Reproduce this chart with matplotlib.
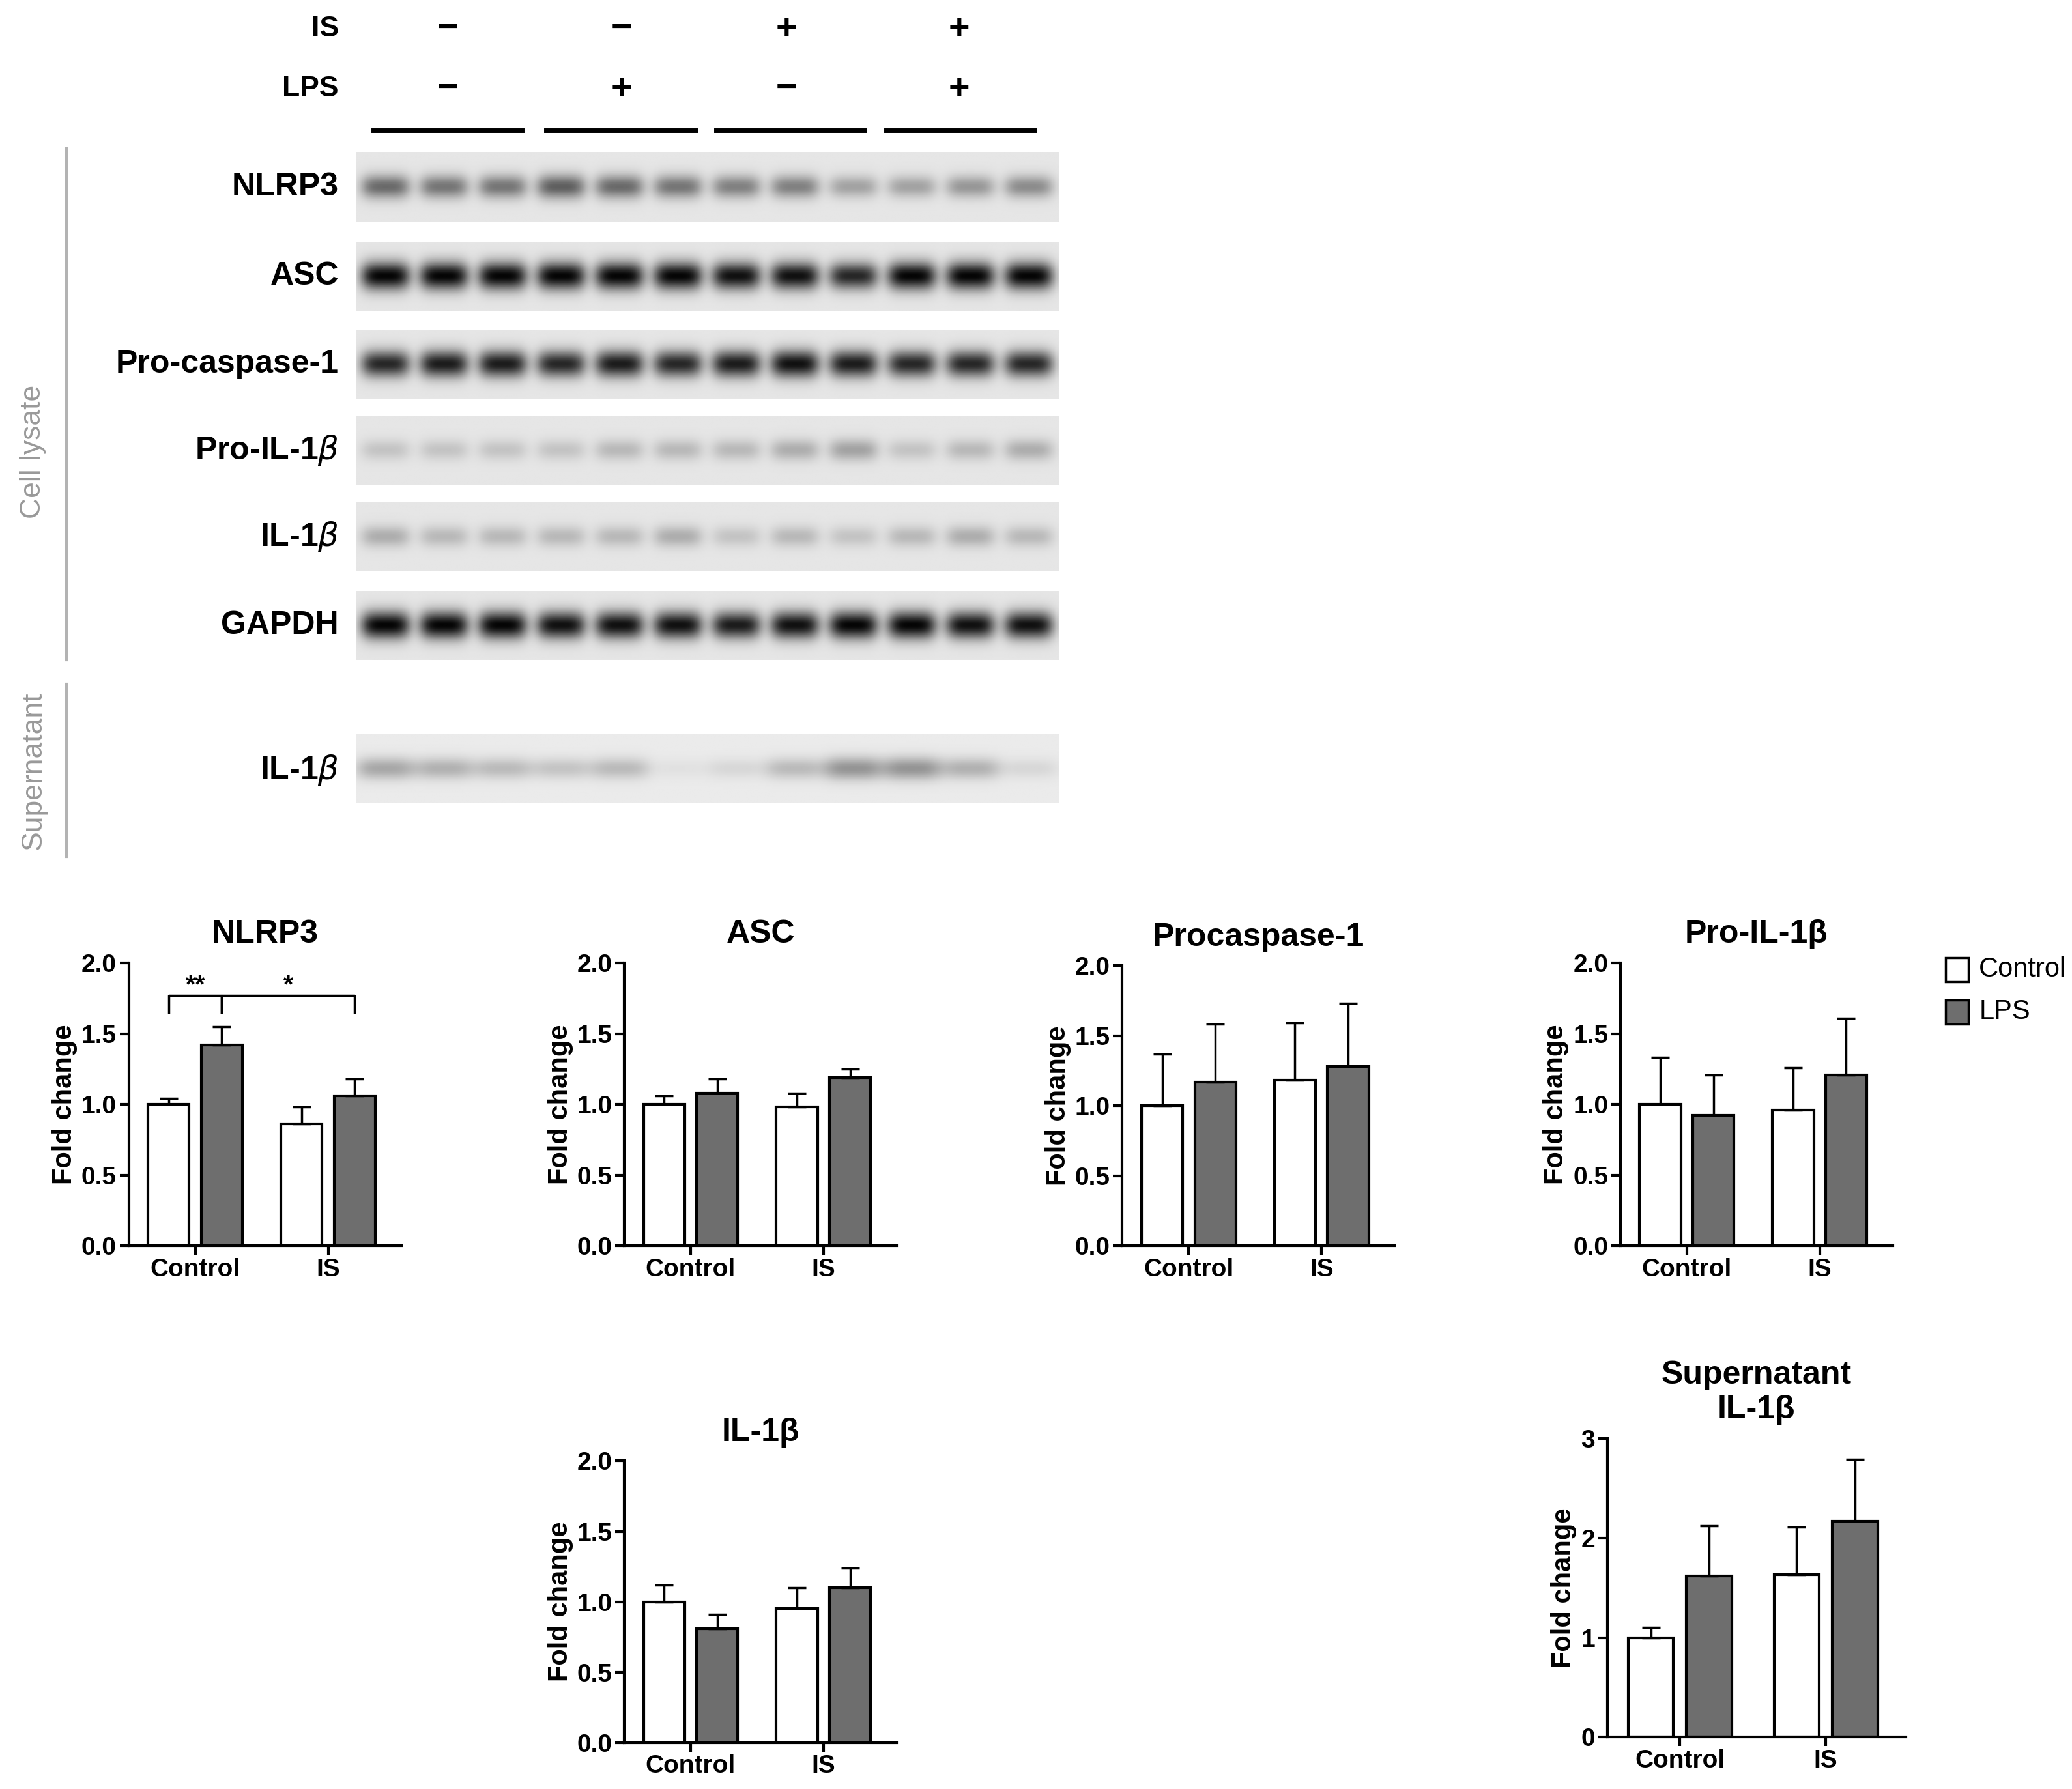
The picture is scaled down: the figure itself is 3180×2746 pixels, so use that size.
import numpy as np
import matplotlib
matplotlib.use('Agg')
import matplotlib.pyplot as plt
from matplotlib.patches import Rectangle

plt.rcParams['font.family'] = ['Liberation Sans', 'DejaVu Sans']

# ---- data ----
is_signs = ['−', '−', '+', '+']
lps_signs = ['−', '+', '−', '+']
blot_rows = ['NLRP3', 'ASC', 'Pro-caspase-1', 'Pro-IL-1$\\beta$', 'IL-1$\\beta$', 'GAPDH']
# band intensities per lane (12 lanes), 0..1
band_int = {
    'NLRP3': [0.55, 0.5, 0.5, 0.6, 0.55, 0.5, 0.45, 0.45, 0.3, 0.3, 0.35, 0.4],
    'ASC': [1, 1, 1, 1, 1, 1, 0.95, 0.95, 0.85, 1, 1, 1],
    'Pro-caspase-1': [0.85, 0.9, 0.9, 0.85, 0.9, 0.85, 0.9, 0.95, 0.9, 0.85, 0.85, 0.85],
    'Pro-IL-1$\\beta$': [0.15, 0.15, 0.15, 0.15, 0.2, 0.2, 0.2, 0.25, 0.3, 0.15, 0.2, 0.25],
    'IL-1$\\beta$': [0.25, 0.2, 0.2, 0.2, 0.2, 0.25, 0.15, 0.2, 0.15, 0.2, 0.25, 0.2],
    'GAPDH': [1, 1, 1, 0.95, 0.95, 0.95, 0.9, 0.95, 1, 1, 0.95, 0.95],
}
sup_int = [0.35, 0.3, 0.25, 0.2, 0.25, 0.05, 0.1, 0.25, 0.45, 0.45, 0.3, 0.1]

groups = ['Control', 'IS']
charts = {
    'NLRP3':        ([1.00, 1.42, 0.86, 1.06], [0.04, 0.13, 0.12, 0.12]),
    'ASC':          ([1.00, 1.08, 0.98, 1.19], [0.06, 0.10, 0.10, 0.06]),
    'Procaspase-1': ([1.00, 1.17, 1.18, 1.28], [0.37, 0.41, 0.41, 0.45]),
    'Pro-IL-1β':    ([1.00, 0.92, 0.96, 1.21], [0.33, 0.29, 0.30, 0.40]),
    'IL-1β':        ([1.00, 0.81, 0.95, 1.10], [0.12, 0.10, 0.15, 0.14]),
    'Supernatant\nIL-1β': ([1.00, 1.62, 1.63, 2.17], [0.10, 0.50, 0.48, 0.62]),
}

W, H = 1560, 1347
fig = plt.figure(figsize=(31.8, 27.46), dpi=100)

def fx(x): return x / W
def fy(y): return 1 - y / H

def band_image(vals, nx=530, ny=50, wide=1.0):
    xs = np.linspace(0, 12, nx)
    ys = np.linspace(-1, 1, ny)
    X, Y = np.meshgrid(xs, ys)
    img = np.zeros_like(X)
    for i, v in enumerate(vals):
        xc = i + 0.5
        img += v * np.exp(-((X - xc) / (0.42 * wide)) ** 4 - (Y / (0.28 + 0.12 * v)) ** 2)
    return np.clip(img, 0, 1)

# blot rows
row_tops = [115, 182, 248, 313, 378, 445]
for name, top in zip(blot_rows, row_tops):
    ax = fig.add_axes([fx(268), fy(top + 52), fx(797 - 268), 52 / H])
    img = band_image(band_int[name])
    ax.imshow(0.9 - 0.88 * img, cmap='gray', vmin=0, vmax=1, aspect='auto',
              extent=[0, 12, -1, 1])
    ax.axis('off')
    fig.text(fx(255), fy(top + 26), name, ha='right', va='center',
             fontsize=36, fontweight='bold')

ax = fig.add_axes([fx(268), fy(605), fx(529), 52 / H])
ax.imshow(0.92 - 0.75 * band_image(sup_int, wide=1.2), cmap='gray', vmin=0, vmax=1,
          aspect='auto', extent=[0, 12, -1, 1])
ax.axis('off')
fig.text(fx(255), fy(580), 'IL-1$\\beta$', ha='right', va='center', fontsize=36, fontweight='bold')

# header signs
sign_x = [337, 468, 592, 722]
seg = [(281, 393), (411, 524), (539, 651), (667, 779)]
fig.text(fx(255), fy(22), 'IS', ha='right', va='center', fontsize=32, fontweight='bold')
fig.text(fx(255), fy(67), 'LPS', ha='right', va='center', fontsize=32, fontweight='bold')
for x, s1, s2, (a, b) in zip(sign_x, is_signs, lps_signs, seg):
    fig.text(fx(x), fy(22), s1, ha='center', va='center', fontsize=40, fontweight='bold')
    fig.text(fx(x), fy(67), s2, ha='center', va='center', fontsize=40, fontweight='bold')
    fig.add_artist(plt.Line2D([fx(a), fx(b)], [fy(98), fy(98)], color='black', lw=5))

# side labels
fig.add_artist(plt.Line2D([fx(50), fx(50)], [fy(112), fy(497)], color='0.7', lw=3))
fig.add_artist(plt.Line2D([fx(50), fx(50)], [fy(515), fy(645)], color='0.7', lw=3))
fig.text(fx(25), fy(340), 'Cell lysate', rotation=90, ha='center', va='center', fontsize=32, color='0.6')
fig.text(fx(25), fy(580), 'Supernatant', rotation=90, ha='center', va='center', fontsize=32, color='0.6')

# bar charts
pos = [0, 0.8, 2.0, 2.8]
colors = ['white', '#6e6e6e', 'white', '#6e6e6e']
boxes = {
    'NLRP3': (97, 725, 302, 938),
    'ASC': (470, 725, 675, 938),
    'Procaspase-1': (845, 727, 1050, 938),
    'Pro-IL-1β': (1220, 725, 1425, 938),
    'IL-1β': (470, 1100, 675, 1312),
    'Supernatant\nIL-1β': (1210, 1083, 1435, 1308),
}
for name, (vals, errs) in charts.items():
    x0, y0, x1, y1 = boxes[name]
    ax = fig.add_axes([fx(x0), fy(y1), fx(x1 - x0), (y1 - y0) / H])
    ax.bar(pos, vals, width=0.62, color=colors, edgecolor='black', linewidth=3)
    ax.errorbar(pos, vals, yerr=[np.zeros(4), errs], fmt='none', ecolor='black',
                elinewidth=2.5, capsize=10, capthick=2.5)
    ax.set_xlim(-0.6, 3.5)
    sup = name.startswith('Supernatant')
    if sup:
        ax.set_ylim(0, 3)
        ax.set_yticks([0, 1, 2, 3])
    else:
        ax.set_ylim(0, 2)
        ax.set_yticks([0, 0.5, 1.0, 1.5, 2.0])
        ax.set_yticklabels(['0.0', '0.5', '1.0', '1.5', '2.0'])
    ax.set_xticks([0.4, 2.4])
    ax.set_xticklabels(groups)
    for s in ['top', 'right']:
        ax.spines[s].set_visible(False)
    for s in ['left', 'bottom']:
        ax.spines[s].set_linewidth(3)
    ax.tick_params(width=3, length=10, labelsize=28)
    for lab in ax.get_xticklabels() + ax.get_yticklabels():
        lab.set_fontweight('bold')
    ax.set_ylabel('Fold change', fontsize=30, fontweight='bold')
    ax.set_title(name, fontsize=36, fontweight='bold', pad=22)
    if name == 'NLRP3':
        ax.plot([0, 0, 0.8, 0.8], [1.65, 1.77, 1.77, 1.65], color='black', lw=2.5, clip_on=False)
        ax.text(0.4, 1.79, '**', ha='center', fontsize=28, fontweight='bold')
        ax.plot([0.8, 0.8, 2.8, 2.8], [1.65, 1.77, 1.77, 1.65], color='black', lw=2.5, clip_on=False)
        ax.text(1.8, 1.79, '*', ha='center', fontsize=28, fontweight='bold')

# legend
for y, c, lab in [(730, 'white', 'Control'), (762, '#6e6e6e', 'LPS')]:
    fig.add_artist(Rectangle((fx(1465), fy(y + 9)), fx(17), 18 / H, facecolor=c,
                             edgecolor='black', lw=2.5))
    fig.text(fx(1490), fy(y), lab, va='center', fontsize=30)

fig.savefig('out.png', dpi=100, facecolor='white')
